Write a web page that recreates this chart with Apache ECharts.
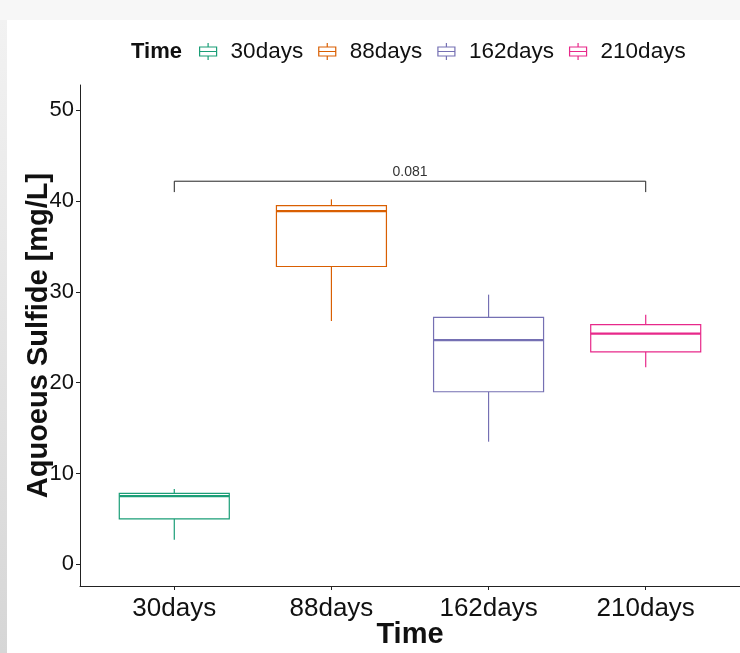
<!DOCTYPE html>
<html>
<head>
<meta charset="utf-8">
<script src="https://cdn.jsdelivr.net/npm/echarts@6/dist/echarts.min.js"></script>
<style>
  html, body { margin: 0; padding: 0; background: #fff; }
  #chart { width: 740px; height: 653px; }
</style>
</head>
<body>
<div id="chart"></div>
<script>
// groups on the x axis
const categories = ['30days', '88days', '162days', '210days']
const colors = ['#1B9E77', '#D95F02', '#7570B3', '#E7298A']

// box stats: [lower whisker, Q1, median, Q3, upper whisker]
const box30 = [2.7, 5.0, 7.5, 7.8, 8.3]
const box88 = [26.8, 32.8, 38.9, 39.5, 40.2]
const box162 = [13.5, 19.0, 24.7, 27.2, 29.7]
const box210 = [21.7, 23.4, 25.4, 26.4, 27.5]
const boxes = [box30, box88, box162, box210]

// comparison bracket between 30days and 210days
const bracketFrom = 1
const bracketTo = 4
const bracketY = 42.2
const bracketTipY = 41.0
const bracketLabel = '0.081'

const yTicks = [0, 10, 20, 30, 40, 50]
const xTicks = [1, 2, 3, 4]

const FONT = 'Liberation Sans, Arial, sans-serif'
const BOX_W = 0.7

function renderBox (color) {
  return function (params, api) {
    const x = api.value(0)
    const lo = api.coord([x, api.value(1)])
    const q1 = api.coord([x, api.value(2)])
    const med = api.coord([x, api.value(3)])
    const q3 = api.coord([x, api.value(4)])
    const hi = api.coord([x, api.value(5)])
    const w = api.size([BOX_W, 0])[0]
    const line = { stroke: color, lineWidth: 1.2 }
    return {
      type: 'group',
      children: [
        { type: 'line', shape: { x1: lo[0], y1: lo[1], x2: q1[0], y2: q1[1] }, style: line },
        { type: 'line', shape: { x1: q3[0], y1: q3[1], x2: hi[0], y2: hi[1] }, style: line },
        { type: 'rect', shape: { x: q3[0] - w / 2, y: q3[1], width: w, height: q1[1] - q3[1] },
          style: { stroke: color, lineWidth: 1.2, fill: '#fff' } },
        { type: 'line', shape: { x1: med[0] - w / 2, y1: med[1], x2: med[0] + w / 2, y2: med[1] },
          style: { stroke: color, lineWidth: 2.2 } }
      ]
    }
  }
}

function renderBracket (params, api) {
  const a = api.coord([api.value(0), api.value(3)])
  const b = api.coord([api.value(0), api.value(2)])
  const c = api.coord([api.value(1), api.value(2)])
  const d = api.coord([api.value(1), api.value(3)])
  return {
    type: 'group',
    children: [
      { type: 'polyline', shape: { points: [a, b, c, d] },
        style: { stroke: '#222', lineWidth: 1, fill: null } },
      { type: 'text', x: (b[0] + c[0]) / 2, y: b[1] - 2,
        style: { text: bracketLabel, fontSize: 14, fontFamily: FONT, fill: '#333',
          align: 'center', verticalAlign: 'bottom' } }
    ]
  }
}

const series = categories.map((name, i) => ({
  name: name,
  type: 'custom',
  renderItem: renderBox(colors[i]),
  itemStyle: { color: colors[i] },
  encode: { x: 0, y: [1, 2, 3, 4, 5] },
  data: [[i + 1].concat(boxes[i])],
  z: 2
}))

series.push({
  type: 'custom',
  renderItem: renderBracket,
  encode: { x: [0, 1], y: [2, 3] },
  data: [[bracketFrom, bracketTo, bracketY, bracketTipY]],
  z: 3,
  silent: true
})

const keyPath = 'path://M8.5,0 V4 M0,4 H17 V13 H0 Z M0,8.5 H17 M8.5,13 V17'

const option = {
  animation: false,
  backgroundColor: '#fff',
  textStyle: { fontFamily: FONT },
  graphic: [
    { type: 'rect', shape: { x: 0, y: 0, width: 740, height: 20 }, style: { fill: '#f7f7f7' }, z: -10 },
    { type: 'rect', shape: { x: 0, y: 20, width: 7, height: 633 },
      style: { fill: new echarts.graphic.LinearGradient(0, 0, 0, 1, [
        { offset: 0, color: '#f2f2f2' }, { offset: 1, color: '#d6d6d6' }]) }, z: -10 }
  ],
  title: {
    text: 'Time',
    left: 126,
    top: 36,
    textStyle: { fontSize: 22, fontWeight: 'bold', color: '#111', fontFamily: FONT }
  },
  legend: {
    left: 194,
    top: 35,
    itemWidth: 17,
    itemHeight: 17,
    itemGap: 15,
    icon: keyPath,
    textStyle: { fontSize: 22.5, color: '#111', fontFamily: FONT, padding: [0, 0, 0, 9] },
    data: categories.map((name, i) => ({
      name: name,
      itemStyle: { color: '#fff', borderColor: colors[i], borderWidth: 1.2 }
    }))
  },
  grid: { left: 80, right: 0, top: 85, bottom: 67, outerBoundsMode: 'none', containLabel: false },
  xAxis: {
    type: 'value',
    min: 0.4,
    max: 4.6,
    name: 'Time',
    nameLocation: 'middle',
    nameGap: 34,
    nameMoveOverlap: false,
    nameTextStyle: { fontSize: 29, fontWeight: 'bold', color: '#111', fontFamily: FONT },
    axisLine: { onZero: false, lineStyle: { color: '#222', width: 1 } },
    axisTick: { customValues: xTicks, length: 4, lineStyle: { color: '#222' } },
    axisLabel: {
      customValues: xTicks,
      fontSize: 26,
      color: '#111',
      margin: 10,
      formatter: v => categories[Math.round(v) - 1]
    },
    splitLine: { show: false }
  },
  yAxis: {
    type: 'value',
    min: -2.4,
    max: 52.8,
    name: 'Aquoeus Sulfide [mg/L]',
    nameLocation: 'middle',
    nameGap: 27,
    nameMoveOverlap: false,
    nameTextStyle: { fontSize: 29, fontWeight: 'bold', color: '#111', fontFamily: FONT },
    axisLine: { show: true, onZero: false, lineStyle: { color: '#222', width: 1 } },
    axisTick: { show: true, customValues: yTicks, length: 4, lineStyle: { color: '#222' } },
    axisLabel: { customValues: yTicks, fontSize: 22, color: '#111', margin: 6 },
    splitLine: { show: false }
  },
  series: series
}

const chart = echarts.init(document.getElementById('chart'))
chart.setOption(option)
</script>
</body>
</html>
